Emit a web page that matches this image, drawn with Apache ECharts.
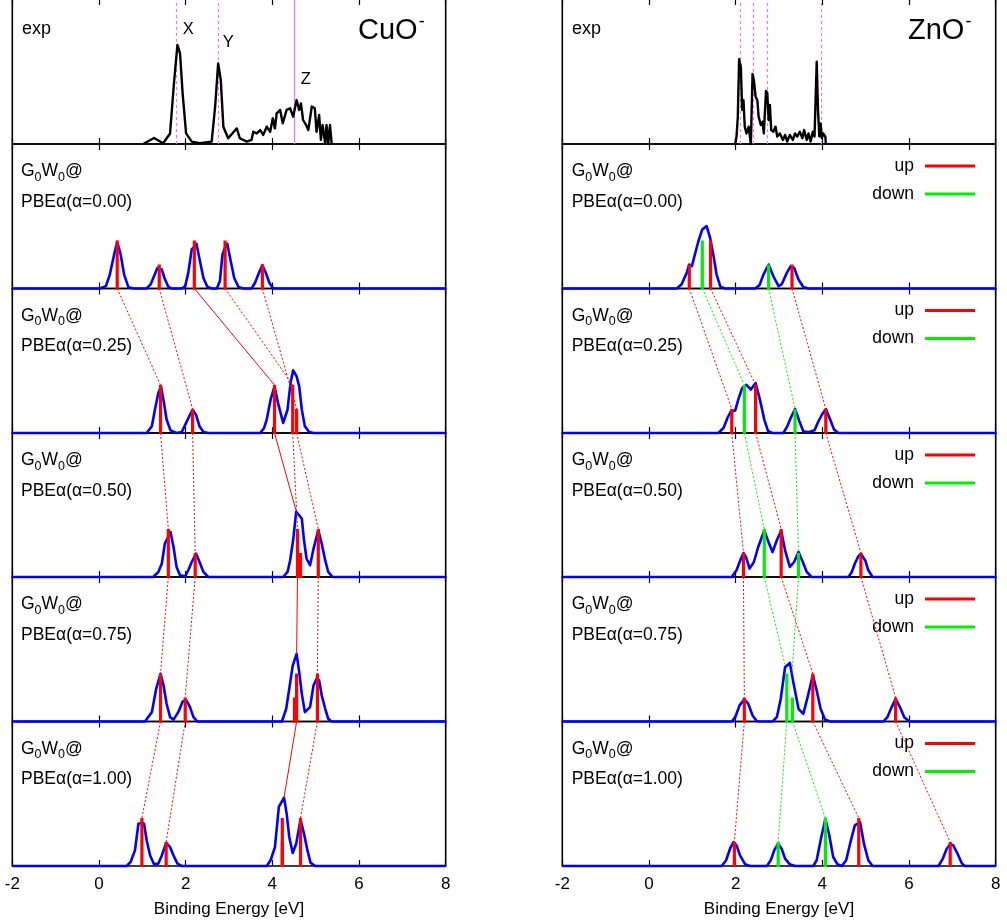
<!DOCTYPE html>
<html><head><meta charset="utf-8">
<script src="https://cdn.jsdelivr.net/npm/echarts@6/dist/echarts.min.js"></script>
<style>html,body{margin:0;padding:0;background:#fff}#c{width:1007px;height:924px}</style>
</head><body><div id="c"></div><script>
// ---------------- DATA ----------------
const xTicks = [-2, 0, 2, 4, 6, 8];
const alphaLabels = ['0.00', '0.25', '0.50', '0.75', '1.00'];

// CuO- experiment
const cuoExp = [[1.02,0],[1.27,0.25],[1.48,0.03],[1.64,0.44],[1.73,2.53],[1.81,4.13],[1.87,3.78],[1.93,2.11],[2.01,0.44],[2.14,0.1],[2.33,0.03],[2.60,0.1],[2.68,1.56],[2.75,3.36],[2.81,2.67],[2.87,0.72],[2.98,0.24],[3.18,0.65],[3.25,0.24],[3.41,0.1],[3.52,0.17],[3.56,0.51],[3.64,0.44],[3.72,0.58],[3.79,0.38],[3.87,0.72],[3.95,0.51],[4.01,1.07],[4.06,0.65],[4.10,1.28],[4.18,1.42],[4.24,0.86],[4.33,1.42],[4.41,1.49],[4.48,1.14],[4.56,1.83],[4.62,1.42],[4.66,1.69],[4.71,1.0],[4.78,0.79],[4.83,0.58],[4.91,1.56],[4.98,1.49],[5.02,0.51],[5.08,1.21],[5.12,0.17],[5.16,0.79],[5.22,0.03],[5.25,0.79],[5.29,0],[5.33,0.79],[5.37,0]];
const cuoExpDashedMarks = [1.78, 2.75];
const cuoExpSolidMarks = [4.50];
const cuoPeakLabels = ['X', 'Y', 'Z'];
const cuoPeakLabelPos = [[2.06,4.78],[2.98,4.22],[4.77,2.70]];

// CuO- G0W0 sticks [energy, degeneracy]
const cuoSticks00 = [[0.42,2],[1.39,1],[2.20,2],[2.91,2],[3.77,1]];
const cuoSticks25 = [[1.42,2],[2.16,1],[4.05,2],[4.47,2],[4.56,1]];
const cuoSticks50 = [[1.60,2],[2.22,1],[4.58,2],[4.65,1],[5.06,2]];
const cuoSticks75 = [[1.42,2],[1.99,1],[4.51,1],[4.56,2],[5.04,2]];
const cuoSticks100 = [[0.99,2],[1.55,1],[4.23,2],[4.23,1],[4.65,2]];

// CuO- broadened spectra
const cuoCurve00 = [[-2,0],[0.02,0],[0.16,0.1],[0.25,0.58],[0.35,1.42],[0.42,1.94],[0.50,1.42],[0.58,0.58],[0.68,0.05],[0.79,0],[1.10,0],[1.19,0.17],[1.27,0.51],[1.35,0.86],[1.39,0.92],[1.45,0.79],[1.51,0.44],[1.60,0.07],[1.68,0],[1.91,0],[1.99,0.1],[2.06,0.65],[2.14,1.63],[2.20,1.75],[2.25,1.86],[2.33,1.14],[2.41,0.44],[2.50,0.07],[2.60,0],[2.72,0],[2.79,0.31],[2.85,1.42],[2.91,1.72],[2.96,1.86],[3.04,1.14],[3.12,0.44],[3.22,0.06],[3.33,0],[3.52,0],[3.60,0.24],[3.69,0.65],[3.77,0.97],[3.85,0.65],[3.93,0.24],[4.02,0],[8,0]];
const cuoCurve25 = [[-2,0],[1.10,0],[1.22,0.28],[1.29,0.97],[1.37,1.67],[1.43,1.94],[1.50,1.25],[1.56,0.56],[1.65,0.11],[1.79,0],[1.91,0.04],[2.01,0.42],[2.10,0.76],[2.16,0.97],[2.24,0.76],[2.32,0.28],[2.41,0.04],[2.52,0],[3.72,0],[3.81,0.21],[3.87,0.56],[3.96,1.39],[4.05,1.94],[4.14,1.18],[4.25,0.42],[4.35,0.97],[4.42,2.08],[4.48,2.61],[4.56,2.36],[4.62,1.94],[4.68,0.97],[4.75,0.28],[4.85,0.04],[4.95,0],[8,0]];
const cuoCurve50 = [[-2,0],[1.25,0],[1.37,0.21],[1.45,0.56],[1.52,1.39],[1.60,1.69],[1.65,1.875],[1.72,1.25],[1.79,0.42],[1.87,0.07],[1.99,0.03],[2.06,0.28],[2.14,0.625],[2.24,0.97],[2.32,0.625],[2.41,0.21],[2.52,0],[4.25,0],[4.35,0.21],[4.41,0.69],[4.48,1.53],[4.55,2.71],[4.62,2.57],[4.68,2.43],[4.73,1.53],[4.79,0.76],[4.87,0.49],[4.95,1.18],[5.06,1.94],[5.14,1.39],[5.22,0.69],[5.29,0.21],[5.39,0],[8,0]];
const cuoCurve75 = [[-2,0],[1.06,0],[1.22,0.39],[1.32,1.36],[1.42,1.99],[1.49,1.5],[1.56,0.74],[1.64,0.18],[1.72,0.08],[1.83,0.39],[1.93,0.83],[2.02,0.875],[2.10,0.6],[2.18,0.18],[2.27,0],[4.22,0],[4.32,0.53],[4.39,1.36],[4.47,2.33],[4.56,2.82],[4.62,2.06],[4.68,1.15],[4.75,0.39],[4.87,0.6],[4.95,1.5],[5.02,1.78],[5.08,1.71],[5.14,1.08],[5.22,0.53],[5.29,0.11],[5.37,0],[8,0]];
const cuoCurve100 = [[-2,0],[0.64,0],[0.73,0.17],[0.83,0.65],[0.91,1.76],[0.99,1.79],[1.04,1.76],[1.10,1.07],[1.18,0.44],[1.27,0.07],[1.37,0.1],[1.45,0.44],[1.55,0.96],[1.64,0.79],[1.72,0.44],[1.81,0.1],[1.91,0],[3.87,0],[3.96,0.24],[4.06,0.79],[4.15,2.46],[4.27,2.85],[4.33,2.18],[4.39,1.21],[4.47,0.54],[4.55,0.93],[4.65,1.93],[4.73,1.35],[4.81,0.65],[4.88,0.14],[4.99,0],[8,0]];

// CuO- correlation links [energy in panel above, energy here, height here]
const cuoDotLinks25 = [[0.42,1.42,2],[1.39,2.16,1],[2.91,4.47,2],[3.77,4.56,1]];
const cuoSolidLinks25 = [[2.20,4.05,2]];
const cuoDotLinks50 = [[1.42,1.60,2],[2.16,2.22,1],[4.47,4.58,2],[4.56,5.06,2]];
const cuoSolidLinks50 = [[4.05,4.55,2.75]];
const cuoDotLinks75 = [[1.60,1.42,2],[2.22,1.99,1],[5.06,5.04,2]];
const cuoSolidLinks75 = [[4.58,4.56,2.8]];
const cuoDotLinks100 = [[1.42,0.99,2],[1.99,1.55,1],[5.04,4.65,2]];
const cuoSolidLinks100 = [[4.56,4.27,2.85]];

// ZnO- experiment
const znoExp = [[1.99,0],[2.02,0.31],[2.05,1.14],[2.08,3.53],[2.12,3.22],[2.15,1.42],[2.18,1.83],[2.21,0.72],[2.25,0.44],[2.30,0.72],[2.35,0],[2.39,2.92],[2.42,2.67],[2.46,1.97],[2.50,1.83],[2.53,1.14],[2.58,0.79],[2.62,0.93],[2.65,0.44],[2.70,2.21],[2.73,2.12],[2.76,1.0],[2.79,1.63],[2.82,0.58],[2.87,0.51],[2.92,0.72],[2.96,0.31],[3.02,0.44],[3.09,0.17],[3.14,0.38],[3.19,0.1],[3.25,0.38],[3.32,0.17],[3.37,0.44],[3.42,0.31],[3.48,0.51],[3.54,0.24],[3.58,0.58],[3.64,0.17],[3.68,0.44],[3.73,0.1],[3.78,0.51],[3.82,0.31],[3.87,3.43],[3.90,1.42],[3.93,0.31],[3.96,0.86],[3.99,0.24],[4.02,0.44],[4.07,0.31],[4.08,0]];
const znoExpDashedMarks = [2.10, 2.41, 2.72, 3.97];

// ZnO- sticks (spin up / spin down)
const znoUp00 = [[0.93,1],[1.42,2],[3.30,1]];
const znoDown00 = [[1.23,2],[2.76,1]];
const znoUp25 = [[1.91,1],[2.46,2],[4.08,1]];
const znoDown25 = [[2.20,2],[3.37,1]];
const znoUp50 = [[2.18,1],[3.05,2],[4.89,1]];
const znoDown50 = [[2.66,2],[3.45,1]];
const znoUp75 = [[2.20,1],[3.78,2],[5.69,1]];
const znoDown75 = [[3.18,2],[3.31,1]];
const znoUp100 = [[1.97,1],[4.84,2],[6.95,1]];
const znoDown100 = [[2.98,1],[4.07,2]];

// ZnO- broadened spectra
const znoCurve00 = [[-2,0],[0.64,0],[0.75,0.17],[0.87,0.65],[0.93,1.0],[0.99,0.93],[1.06,1.42],[1.14,1.97],[1.23,2.46],[1.33,2.6],[1.41,2.11],[1.49,1.35],[1.56,0.58],[1.65,0.07],[1.75,0],[2.45,0],[2.55,0.14],[2.64,0.58],[2.76,1.0],[2.87,0.51],[2.99,0.1],[3.06,0.17],[3.18,0.65],[3.27,0.93],[3.35,0.86],[3.45,0.375],[3.56,0.06],[3.68,0],[8,0]];
const znoCurve25 = [[-2,0],[1.60,0],[1.72,0.21],[1.81,0.625],[1.89,0.9],[1.99,0.94],[2.06,1.39],[2.15,1.875],[2.25,2.01],[2.35,1.81],[2.46,2.08],[2.56,1.39],[2.66,0.56],[2.75,0.07],[2.85,0],[3.10,0],[3.19,0.28],[3.27,0.625],[3.37,1.0],[3.47,0.49],[3.56,0.07],[3.68,0.03],[3.82,0.11],[3.91,0.49],[3.99,0.76],[4.08,1.0],[4.18,0.56],[4.27,0.14],[4.37,0],[8,0]];
const znoCurve50 = [[-2,0],[1.91,0],[2.02,0.28],[2.12,0.76],[2.18,1.0],[2.24,0.83],[2.32,0.35],[2.42,0.625],[2.52,1.25],[2.66,1.94],[2.75,1.49],[2.85,1.04],[2.95,1.53],[3.05,1.94],[3.14,1.11],[3.25,0.42],[3.35,0.625],[3.45,1.04],[3.55,0.625],[3.64,0.21],[3.75,0],[4.60,0],[4.68,0.21],[4.75,0.56],[4.83,0.86],[4.89,0.97],[4.99,0.69],[5.06,0.28],[5.16,0],[8,0]];
const znoCurve75 = [[-2,0],[1.91,0],[1.99,0.18],[2.09,0.67],[2.20,0.92],[2.29,0.74],[2.39,0.25],[2.49,0.01],[2.85,0],[2.95,0.18],[3.04,0.94],[3.14,2.26],[3.25,2.44],[3.33,1.64],[3.45,0.53],[3.56,0.32],[3.65,0.94],[3.78,1.94],[3.87,1.29],[3.96,0.53],[4.06,0.08],[4.18,0],[5.41,0],[5.50,0.18],[5.60,0.6],[5.69,0.94],[5.79,0.6],[5.89,0.18],[6.01,0],[8,0]];
const znoCurve100 = [[-2,0],[1.68,0],[1.78,0.24],[1.87,0.72],[1.95,1.0],[2.02,0.86],[2.10,0.44],[2.22,0.07],[2.33,0],[2.72,0],[2.81,0.24],[2.89,0.65],[2.98,0.93],[3.06,0.72],[3.14,0.31],[3.25,0.07],[3.37,0],[3.79,0],[3.87,0.24],[3.96,1.07],[4.07,1.97],[4.16,1.28],[4.25,0.375],[4.35,0.07],[4.45,0],[4.55,0.24],[4.64,0.93],[4.75,1.69],[4.87,1.83],[4.96,0.93],[5.06,0.24],[5.16,0],[6.68,0],[6.78,0.31],[6.87,0.72],[6.95,0.9],[7.02,0.86],[7.12,0.51],[7.22,0.1],[7.29,0],[8,0]];

// ZnO- correlation links [energy above, energy here, height here]
const znoUpLinks25 = [[0.93,1.91,1],[1.42,2.46,2],[3.30,4.08,1]];
const znoDownLinks25 = [[1.23,2.20,2],[2.76,3.37,1]];
const znoUpLinks50 = [[1.91,2.18,1],[2.46,3.05,2],[4.08,4.89,1]];
const znoDownLinks50 = [[2.20,2.66,2],[3.37,3.45,1]];
const znoUpLinks75 = [[2.18,2.20,1],[3.05,3.78,2],[4.89,5.69,1]];
const znoDownLinks75 = [[2.66,3.14,2.35],[3.45,3.30,2.0]];
const znoUpLinks100 = [[2.20,1.97,1],[3.78,4.84,2],[5.69,6.95,1]];
const znoDownLinks100 = [[3.18,2.98,1],[3.31,4.07,2]];

// ---------------- LAYOUT / STYLE ----------------
const FONT = '"Liberation Sans", Arial, Helvetica, sans-serif';
const COL_LEFT = [12.3, 562.3];
const COL_W = 433.4;
const ROW_B = [-1, 144, 288.5, 433, 577, 721.5, 866];
const PXU = 24;
const RED = '#ff0000', GREEN = '#00ee00', BLUE = '#0000ff', MAG = '#ee77ee';

const grids = [], xAxes = [], yAxes = [], series = [], graphics = [], legends = [];

function addGrid(col, row) {
  const idx = grids.length;
  const top = ROW_B[row], h = ROW_B[row + 1] - ROW_B[row];
  grids.push({left: COL_LEFT[col], top: top, width: COL_W, height: h, show: true,
    borderColor: '#000', borderWidth: 1.6, backgroundColor: 'transparent',
    containLabel: false, outerBoundsMode: 'none'});
  const tick = {show: true, inside: true, length: 6, lineStyle: {color: '#000', width: 1.2}};
  const isBottom = row === 5;
  xAxes.push({gridIndex: idx, type: 'value', min: xTicks[0], max: xTicks[xTicks.length - 1], interval: 2,
    position: 'bottom', axisLine: {show: false}, axisTick: tick, splitLine: {show: false},
    axisLabel: {show: isBottom, fontSize: 17, color: '#000', margin: 10, fontFamily: FONT, showMinLabel: true, showMaxLabel: true},
    name: isBottom ? 'Binding Energy [eV]' : '', nameLocation: 'middle', nameGap: 35,
    nameTextStyle: {fontSize: 17, color: '#000', fontFamily: FONT}});
  xAxes.push({gridIndex: idx, type: 'value', min: xTicks[0], max: xTicks[xTicks.length - 1], interval: 2,
    position: 'top', axisLine: {show: false}, axisTick: tick, splitLine: {show: false}, axisLabel: {show: false}});
  yAxes.push({gridIndex: idx, type: 'value', min: 0, max: h / PXU, show: false});
  return {xi: 2 * idx, yi: idx, ymax: h / PXU, top: top};
}

function curve(g, data, color, width) {
  series.push({type: 'line', xAxisIndex: g.xi, yAxisIndex: g.yi, data: data, showSymbol: false, symbol: 'none',
    clip: false, silent: true, z: 3, animation: false,
    lineStyle: {color: color, width: width, join: 'round'}});
}
function sticks(g, data, color, name) {
  series.push({type: 'custom', name: name, xAxisIndex: g.xi, yAxisIndex: g.yi, data: data, silent: true, z: 4,
    animation: false, itemStyle: {color: color},
    renderItem: function (params, api) {
      const p0 = api.coord([api.value(0), 0]);
      const p1 = api.coord([api.value(0), api.value(1)]);
      return {type: 'rect', shape: {x: p0[0] - 1.6, y: p1[1], width: 3.2, height: p0[1] - p1[1] + 1}, style: {fill: color}};
    }});
}
function links(g, data, color, dashed) {
  series.push({type: 'lines', coordinateSystem: 'cartesian2d', xAxisIndex: g.xi, yAxisIndex: g.yi, silent: true, z: 5,
    animation: false, polyline: false,
    data: data.map(l => ({coords: [[l[0], g.ymax], [l[1], l[2]]]})),
    lineStyle: {color: color, width: 1, type: dashed ? [2, 2] : 'solid', opacity: 1}});
}
function vlines(g, xs, color, dashed) {
  series.push({type: 'lines', coordinateSystem: 'cartesian2d', xAxisIndex: g.xi, yAxisIndex: g.yi, silent: true, z: 2,
    animation: false, polyline: false,
    data: xs.map(x => ({coords: [[x, 0], [x, g.ymax]]})),
    lineStyle: {color: color, width: 1.2, type: dashed ? [3, 3] : 'solid', opacity: 1}});
}
function text(x, y, str, size, rich) {
  graphics.push({type: 'text', x: x, y: y, silent: true, z: 10,
    style: {text: str, fontSize: size, fontFamily: FONT, fill: '#000', align: 'left', verticalAlign: 'middle', rich: rich}});
}
const gwRich = {a: {fontSize: 17.5, fontFamily: FONT, fill: '#000', color: '#000'},
  s: {fontSize: 12.5, fontFamily: FONT, fill: '#000', color: '#000', padding: [12, 0, 0, 0]}};
const titleRich = {m: {fontSize: 29, fontFamily: FONT, fill: '#000', color: '#000'},
  p: {fontSize: 18, fontFamily: FONT, fill: '#000', color: '#000', padding: [0, 0, 18, 1]}};

// ---- left column: CuO- ----
const gL0 = addGrid(0, 0);
vlines(gL0, cuoExpDashedMarks, MAG, true);
vlines(gL0, cuoExpSolidMarks, MAG, false);
curve(gL0, cuoExp, '#000', 2.4);
series.push({type: 'scatter', xAxisIndex: gL0.xi, yAxisIndex: gL0.yi, symbolSize: 1, silent: true, animation: false,
  itemStyle: {opacity: 0}, z: 10,
  data: cuoPeakLabelPos.map((p, i) => ({value: p, name: cuoPeakLabels[i]})),
  label: {show: true, position: 'inside', formatter: '{b}', fontSize: 16.5, color: '#000', opacity: 1, fontFamily: FONT,
    textBorderWidth: 0}});
text(22, 29, 'exp', 18);
text(358, 31, '{m|CuO}{p|-}', 29, titleRich);

const cuoSticks = [cuoSticks00, cuoSticks25, cuoSticks50, cuoSticks75, cuoSticks100];
const cuoCurves = [cuoCurve00, cuoCurve25, cuoCurve50, cuoCurve75, cuoCurve100];
const cuoDot = [null, cuoDotLinks25, cuoDotLinks50, cuoDotLinks75, cuoDotLinks100];
const cuoSolid = [null, cuoSolidLinks25, cuoSolidLinks50, cuoSolidLinks75, cuoSolidLinks100];
for (let k = 0; k < 5; k++) {
  const g = addGrid(0, k + 1);
  curve(g, cuoCurves[k], BLUE, 2.6);
  sticks(g, cuoSticks[k], RED, 'cuo');
  if (cuoDot[k]) links(g, cuoDot[k], RED, true);
  if (cuoSolid[k]) links(g, cuoSolid[k], RED, false);
  text(21, g.top + 27.5, '{a|G}{s|0}{a|W}{s|0}{a|@}', 17.5, gwRich);
  text(21, g.top + 58, 'PBEα(α=' + alphaLabels[k] + ')', 17.5);
}

// ---- right column: ZnO- ----
const gR0 = addGrid(1, 0);
vlines(gR0, znoExpDashedMarks, MAG, true);
curve(gR0, znoExp, '#000', 2.4);
text(572, 29, 'exp', 18);
text(908, 31, '{m|ZnO}{p|-}', 29, titleRich);

const znoUps = [znoUp00, znoUp25, znoUp50, znoUp75, znoUp100];
const znoDowns = [znoDown00, znoDown25, znoDown50, znoDown75, znoDown100];
const znoCurves = [znoCurve00, znoCurve25, znoCurve50, znoCurve75, znoCurve100];
const znoUpL = [null, znoUpLinks25, znoUpLinks50, znoUpLinks75, znoUpLinks100];
const znoDownL = [null, znoDownLinks25, znoDownLinks50, znoDownLinks75, znoDownLinks100];
for (let k = 0; k < 5; k++) {
  const g = addGrid(1, k + 1);
  curve(g, znoCurves[k], BLUE, 2.6);
  sticks(g, znoUps[k], RED, 'up');
  sticks(g, znoDowns[k], GREEN, 'down');
  if (znoUpL[k]) links(g, znoUpL[k], RED, true);
  if (znoDownL[k]) links(g, znoDownL[k], GREEN, true);
  text(571.7, g.top + 27.5, '{a|G}{s|0}{a|W}{s|0}{a|@}', 17.5, gwRich);
  text(571.7, g.top + 58, 'PBEα(α=' + alphaLabels[k] + ')', 17.5);
  legends.push({show: true, data: ['up', 'down'], orient: 'vertical', align: 'right', right: 32, top: g.top + 13,
    icon: 'rect', itemWidth: 50, itemHeight: 3, itemGap: 10, selectedMode: false, padding: 0,
    textStyle: {fontSize: 17.5, color: '#000', fontFamily: FONT, lineHeight: 17, padding: [0, 6, 0, 0]}});
}

const chart = echarts.init(document.getElementById('c'), null, {renderer: 'canvas'});
chart.setOption({
  animation: false,
  backgroundColor: '#fff',
  grid: grids, xAxis: xAxes, yAxis: yAxes, series: series, legend: legends,
  graphic: {elements: graphics}
});
</script></body></html>
